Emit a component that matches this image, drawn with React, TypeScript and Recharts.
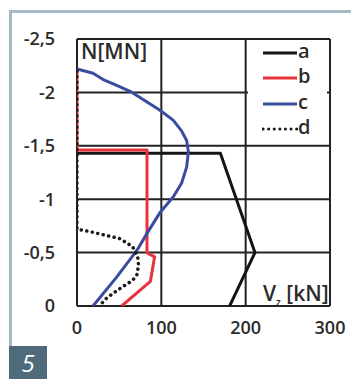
import { LineChart, Line, XAxis, YAxis, CartesianGrid } from 'recharts';

// series a..d : V_z [kN] (x) against N [MN] (y)
const seriesNames = ['a', 'b', 'c', 'd'];
const seriesColors = ['#151515', '#e8323c', '#3a4c9e', '#1a1a1a'];

const aV = [0, 170, 211, 181];
const aN = [-1.43, -1.43, -0.5, 0];

const bV = [0, 0, 83, 83, 92, 87, 53];
const bN = [-2.2, -1.46, -1.46, -0.5, -0.46, -0.23, 0];

const cV = [0, 19, 31, 43, 63, 83, 98, 114, 124, 130, 132, 132, 130, 124, 114, 98, 83, 71, 47, 19];
const cN = [-2.22, -2.18, -2.12, -2.08, -2.01, -1.91, -1.835, -1.74, -1.64, -1.55, -1.45, -1.44, -1.3, -1.15, -1.02, -0.87, -0.68, -0.52, -0.27, 0];

const dV = [0, 0, 19, 51, 66, 72, 73, 71, 66, 54, 43, 33, 27];
const dN = [-2.2, -0.72, -0.69, -0.63, -0.555, -0.46, -0.38, -0.29, -0.24, -0.18, -0.12, -0.06, 0];

const xTicks = [0, 100, 200, 300];
const yTicks = [-2.5, -2, -1.5, -1, -0.5, 0];

const toRows = (v: number[], n: number[]) => v.map((x, i) => ({ v: x, n: n[i] }));
const seriesData = [toRows(aV, aN), toRows(bV, bN), toRows(cV, cN), toRows(dV, dN)];

const font = '"Open Sans", sans-serif';
const tickStyle = { fill: '#2b2b2b', fontSize: 18, fontFamily: font, fontWeight: 600 };

export default function App() {
  return (
    <div style={{ position: 'absolute', left: 0, top: 0, width: 351, height: 379, background: '#fff', overflow: 'hidden' }}>
      {/* figure frame */}
      <div style={{ position: 'absolute', left: 9, top: 10, width: 342, height: 3, background: '#a6bac8' }} />
      <div style={{ position: 'absolute', left: 9, top: 10, width: 3, height: 336, background: '#a6bac8' }} />
      <div
        style={{
          position: 'absolute', left: 9, top: 346, width: 38, height: 33, background: '#4e6a7b',
          color: '#fff', fontFamily: font, fontStyle: 'italic', fontSize: 24, lineHeight: '33px', textAlign: 'center',
        }}
      >
        5
      </div>

      <div style={{ position: 'absolute', left: 0, top: 0 }}>
        <LineChart width={351} height={379} margin={{ top: 39, right: 21, bottom: 43, left: 0 }}>
          <CartesianGrid stroke="#222" strokeWidth={2} />
          <XAxis
            type="number"
            dataKey="v"
            domain={[0, 300]}
            ticks={xTicks}
            allowDataOverflow
            axisLine={false}
            tickLine={false}
            tickSize={0}
            tickMargin={15}
            height={30}
            tick={tickStyle}
          />
          <YAxis
            type="number"
            dataKey="n"
            domain={[-2.5, 0]}
            ticks={yTicks}
            reversed
            allowDataOverflow
            axisLine={false}
            tickLine={false}
            tickSize={0}
            tickMargin={22}
            width={77}
            tick={tickStyle}
            tickFormatter={(t: number) => String(t).replace('.', ',')}
          />
          {seriesData.map((rows, i) => (
            <Line
              key={seriesNames[i]}
              data={rows}
              dataKey="n"
              type="linear"
              stroke={seriesColors[i]}
              strokeWidth={i === 3 ? 3.5 : 3}
              strokeDasharray={i === 3 ? '0.1 5.5' : undefined}
              strokeLinecap={i === 3 ? 'round' : 'butt'}
              strokeLinejoin="round"
              dot={false}
              isAnimationActive={false}
            />
          ))}
        </LineChart>
      </div>

      {/* axis captions */}
      <div style={{ position: 'absolute', left: 81, top: 37, fontFamily: font, fontSize: 21, fontWeight: 600, color: '#2b2b2b' }}>
        N[MN]
      </div>
      <div style={{ position: 'absolute', left: 263, top: 279, fontFamily: font, fontSize: 21, fontWeight: 600, color: '#2b2b2b', whiteSpace: 'nowrap' }}>
        V<sub style={{ fontSize: 10 }}>z</sub> [kN]
      </div>

      {/* legend */}
      <div style={{ position: 'absolute', left: 248, top: 40, width: 79, height: 100, background: '#fff' }}>
        {seriesNames.map((name, i) => (
          <div key={name} style={{ position: 'absolute', left: 14, top: 2 + i * 25.3, height: 22, display: 'flex', alignItems: 'center' }}>
            <svg width={36} height={6}>
              <line
                x1={1}
                y1={3}
                x2={35}
                y2={3}
                stroke={seriesColors[i]}
                strokeWidth={3}
                strokeDasharray={i === 3 ? '0.1 5.5' : undefined}
                strokeLinecap={i === 3 ? 'round' : 'butt'}
              />
            </svg>
            <span style={{ fontFamily: font, fontSize: 20, fontWeight: 600, color: '#2b2b2b', lineHeight: '22px', marginTop: -4 }}>{name}</span>
          </div>
        ))}
      </div>
    </div>
  );
}
